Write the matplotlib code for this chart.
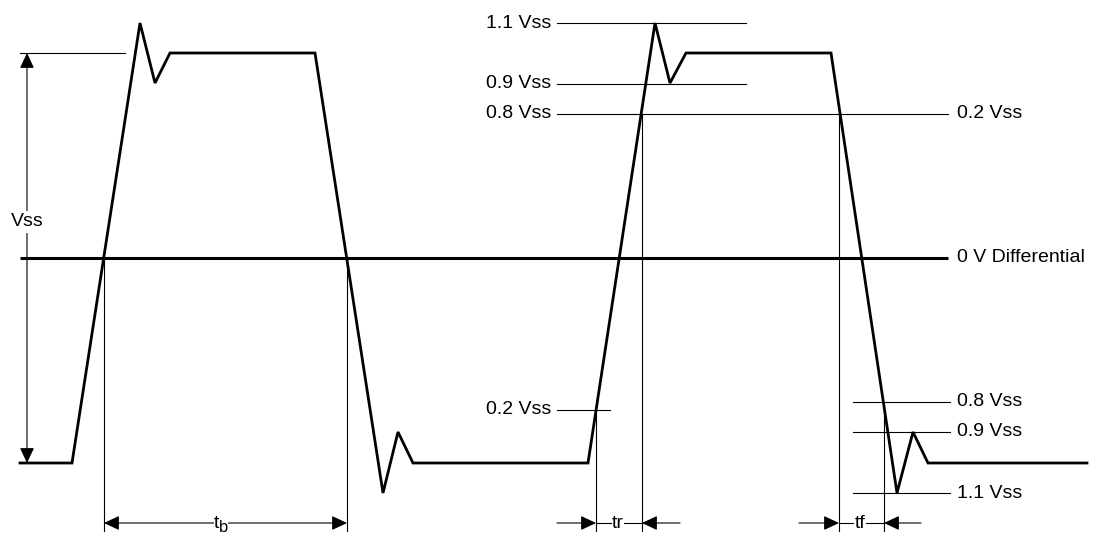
import matplotlib
matplotlib.use('Agg')
import matplotlib.pyplot as plt

plt.rcParams['font.family'] = ['Liberation Sans', 'DejaVu Sans']

# waveform vertices (pixel units)
wave_x = [20, 72, 140, 155, 170, 315, 383, 398, 413, 588, 655, 670, 686, 831, 897, 913, 928, 1087]
wave_y = [463, 463, 23, 83, 53, 53, 493, 432, 463, 463, 23, 83, 53, 53, 493, 432, 463, 463]

# reference levels
y_top, y_zero, y_low = 53, 258, 463
y_11, y_09, y_08, y_02 = 23, 84, 114, 410
y_f08, y_f09, y_f11 = 402, 432, 493
y_dim = 523

left_labels = ['1.1 Vss', '0.9 Vss', '0.8 Vss', '0.2 Vss']
left_label_y = [y_11, y_09, y_08, y_02]
right_labels = ['0.2 Vss', '0 V Differential', '0.8 Vss', '0.9 Vss', '1.1 Vss']
right_label_y = [y_08, y_zero, y_f08, y_f09, y_f11]

fig = plt.figure(figsize=(10.98, 5.37), dpi=100)
ax = fig.add_axes([0, 0, 1, 1])
ax.set_xlim(0, 1098)
ax.set_ylim(537, 0)
ax.axis('off')

thin = dict(color='black', lw=0.8)
fs = 14

# zero differential line
ax.plot([20, 948], [y_zero, y_zero], color='black', lw=2.2, solid_capstyle='butt')

# threshold lines
ax.plot([20, 125], [y_top, y_top], **thin)
ax.plot([557, 746], [y_11, y_11], **thin)
ax.plot([557, 746], [y_09, y_09], **thin)
ax.plot([557, 948], [y_08, y_08], **thin)
ax.plot([557, 610], [y_02, y_02], **thin)
for yy in [y_f08, y_f09, y_f11]:
    ax.plot([853, 950], [yy, yy], **thin)

# vertical timing markers
ax.plot([104, 104], [y_zero, 531], **thin)
ax.plot([347, 347], [y_zero, 531], **thin)
ax.plot([596, 596], [y_02, 531], **thin)
ax.plot([642, 642], [y_08, 531], **thin)
ax.plot([839, 839], [y_08, 531], **thin)
ax.plot([884, 884], [y_f08, 531], **thin)

# waveform
ax.plot(wave_x, wave_y, color='black', lw=2.0, solid_joinstyle='miter')

arrow = dict(arrowstyle='-|>,head_length=0.85,head_width=0.4', color='black',
             lw=0.8, shrinkA=0, shrinkB=0, mutation_scale=11)
darrow = dict(arrow, arrowstyle='<|-|>,head_length=0.85,head_width=0.4')

# Vss dimension
ax.annotate('', xy=(27, y_top), xytext=(27, y_low), arrowprops=darrow)
ax.text(27, 222, 'Vss', fontsize=fs, ha='center', va='center',
        bbox=dict(facecolor='white', edgecolor='none', pad=1.5))

# tb dimension
ax.annotate('', xy=(104, y_dim), xytext=(347, y_dim), arrowprops=darrow)
ax.text(221, y_dim, '   ', fontsize=fs * 0.8, ha='center', va='center',
        bbox=dict(facecolor='white', edgecolor='none', pad=0.5))
ax.text(219.5, y_dim, 't', fontsize=fs, ha='right', va='center')
ax.text(219, y_dim + 5, 'b', fontsize=fs * 0.85, ha='left', va='center')

# tr dimension
ax.annotate('', xy=(596, y_dim), xytext=(557, y_dim), arrowprops=arrow)
ax.annotate('', xy=(642, y_dim), xytext=(680, y_dim), arrowprops=arrow)
ax.plot([596, 642], [y_dim, y_dim], **thin)
ax.text(618, y_dim, 'tr', fontsize=fs, ha='center', va='center',
        bbox=dict(facecolor='white', edgecolor='none', pad=0.3))

# tf dimension
ax.annotate('', xy=(839, y_dim), xytext=(799, y_dim), arrowprops=arrow)
ax.annotate('', xy=(884, y_dim), xytext=(921, y_dim), arrowprops=arrow)
ax.plot([839, 884], [y_dim, y_dim], **thin)
ax.text(860, y_dim, 'tf', fontsize=fs, ha='center', va='center',
        bbox=dict(facecolor='white', edgecolor='none', pad=0.3))

# level labels
for lab, yy in zip(left_labels, left_label_y):
    ax.text(551, yy, lab, fontsize=fs, ha='right', va='center')
for lab, yy in zip(right_labels, right_label_y):
    ax.text(957, yy, lab, fontsize=fs, ha='left', va='center')

fig.savefig('out.png', dpi=100)
